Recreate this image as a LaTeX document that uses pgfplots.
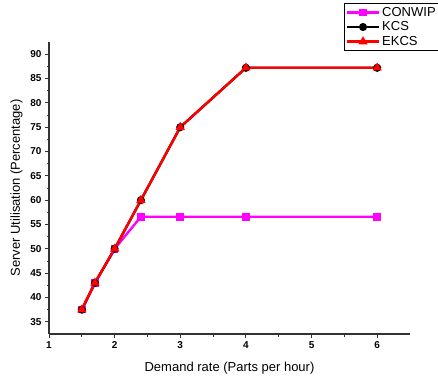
\documentclass[border=0pt]{standalone}
\usepackage{pgfplots}
\pgfplotsset{compat=1.18}
\usepackage{fontspec}
\setmainfont{Liberation Sans}
\definecolor{mag}{RGB}{255,0,255}
\definecolor{rd}{RGB}{255,0,0}
\begin{document}
\begin{tikzpicture}[x=1pt,y=1pt]
\useasboundingbox (0,0) rectangle (438,383);
\begin{axis}[
  at={(49pt,49pt)}, anchor=south west,
  scale only axis, width=361pt, height=292pt,
  xmin=1, xmax=6.5, ymin=32.5, ymax=92.5,
  axis lines=left,
  axis line style={line width=1.2pt, -, black!80},
  xtick={1,2,3,4,5,6}, minor x tick num=1,
  ytick={35,40,...,90}, minor y tick num=1,
  tick align=outside,
  major tick length=4pt, minor tick length=2.5pt,
  every tick/.style={line width=1pt, black!80},
  ticklabel style={font=\fontsize{10}{11}\selectfont\bfseries},
  /pgf/number format/assume math mode=true,
  xlabel={Demand rate (Parts per hour)},
  ylabel={Server Utilisation (Percentage)},
  label style={font=\fontsize{13}{15}\selectfont},
  xlabel style={yshift=-7pt},
  ylabel style={yshift=1pt},
  legend style={at={(0.817,1.1326)}, anchor=north west,
    font=\fontsize{13}{15}\selectfont, draw=black, line width=0.8pt,
    inner sep=1.5pt, row sep=0pt, legend cell align=left},
  legend image code/.code={\draw[mark repeat=2,mark phase=2] plot coordinates {(0pt,0pt) (16pt,0pt) (32pt,0pt)};},
  clip=false,
]
\addplot[mag, line width=2.4pt, mark=square*, mark size=2.6pt, mark options={solid}]
  coordinates {(1.5,37.5) (1.7,43) (2,50) (2.4,56.6) (3,56.6) (4,56.6) (6,56.6)};
\addlegendentry{CONWIP}
\addplot[black, line width=2.4pt, mark=*, mark size=2.8pt]
  coordinates {(1.5,37.5) (1.7,43) (2,50) (2.4,60) (3,75) (4,87.2) (6,87.2)};
\addlegendentry{KCS}
\addplot[rd, line width=2.4pt, mark=triangle*, mark size=3pt]
  coordinates {(1.5,37.5) (1.7,43) (2,50) (2.4,60) (3,75) (4,87.2) (6,87.2)};
\addlegendentry{EKCS}
\end{axis}
\end{tikzpicture}
\end{document}
